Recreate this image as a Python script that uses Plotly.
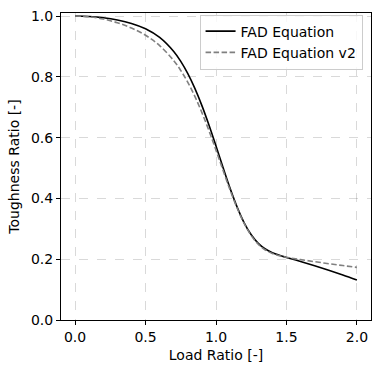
import plotly.graph_objects as go

load_ratio = [0.0, 0.1, 0.2, 0.3, 0.4, 0.5, 0.6, 0.7, 0.75, 0.8, 0.85, 0.9, 0.95, 1.0,
              1.05, 1.1, 1.15, 1.2, 1.25, 1.3, 1.35, 1.4, 1.45, 1.5, 1.6, 1.7, 1.8, 1.9, 2.0]
fad = [1.0, 0.9986, 0.9944, 0.9871, 0.9758, 0.9582, 0.9297, 0.8834, 0.8508, 0.8106, 0.7620,
       0.7053, 0.6413, 0.5723, 0.5014, 0.4330, 0.3713, 0.3198, 0.2802, 0.2522, 0.2337, 0.2215,
       0.2129, 0.2058, 0.1925, 0.1786, 0.1639, 0.1484, 0.1320]
fad_v2 = [1.0, 0.9975, 0.9901, 0.9779, 0.9606, 0.9367, 0.9028, 0.8535, 0.8208, 0.7817, 0.7356,
          0.6824, 0.6229, 0.5587, 0.4924, 0.4277, 0.3683, 0.3177, 0.2780, 0.2493, 0.2304, 0.2186,
          0.2113, 0.2063, 0.1987, 0.1919, 0.1853, 0.1791, 0.1732]

x_ticks = [0.0, 0.5, 1.0, 1.5, 2.0]
y_ticks = [0.0, 0.2, 0.4, 0.6, 0.8, 1.0]

fig = go.Figure()
fig.add_trace(go.Scatter(x=load_ratio, y=fad, mode="lines", name="FAD Equation",
                         line=dict(color="black", width=1.6, shape="spline")))
fig.add_trace(go.Scatter(x=load_ratio, y=fad_v2, mode="lines", name="FAD Equation v2",
                         line=dict(color="#808080", width=1.6, dash="5.5px,2.5px", shape="spline")))

axis_common = dict(
    showline=True, linecolor="black", linewidth=1, mirror=True,
    ticks="outside", ticklen=4, tickwidth=1, tickcolor="black",
    showgrid=True, gridcolor="rgba(0,0,0,0.15)", griddash="dash", gridwidth=1,
    zeroline=False, tickfont=dict(size=14, color="black"), automargin=False,
)

fig.update_layout(
    width=381, height=373,
    margin=dict(l=61, r=10, t=13, b=53),
    paper_bgcolor="white", plot_bgcolor="white",
    font=dict(family="DejaVu Sans", size=14, color="black"),
    xaxis=dict(range=[-0.1, 2.1], tickvals=x_ticks,
               ticktext=[f"{v:.1f}" for v in x_ticks],
               title=dict(text="Load Ratio [-]", font=dict(size=14), standoff=6),
               **axis_common),
    yaxis=dict(range=[0, 1.01], tickvals=y_ticks,
               ticktext=[f"{v:.1f}" for v in y_ticks],
               title=dict(text="Toughness Ratio [-]", font=dict(size=14), standoff=8),
               **axis_common),
    legend=dict(x=0.447, y=0.995, xanchor="left", yanchor="top",
                bgcolor="rgba(255,255,255,0.8)", bordercolor="#cccccc", borderwidth=1,
                font=dict(size=14), tracegroupgap=0, itemwidth=30),
    showlegend=True,
)

fig.write_html("out.html", config={"displayModeBar": False},
               post_script="document.body.style.margin='0';document.body.style.overflow='hidden';")
